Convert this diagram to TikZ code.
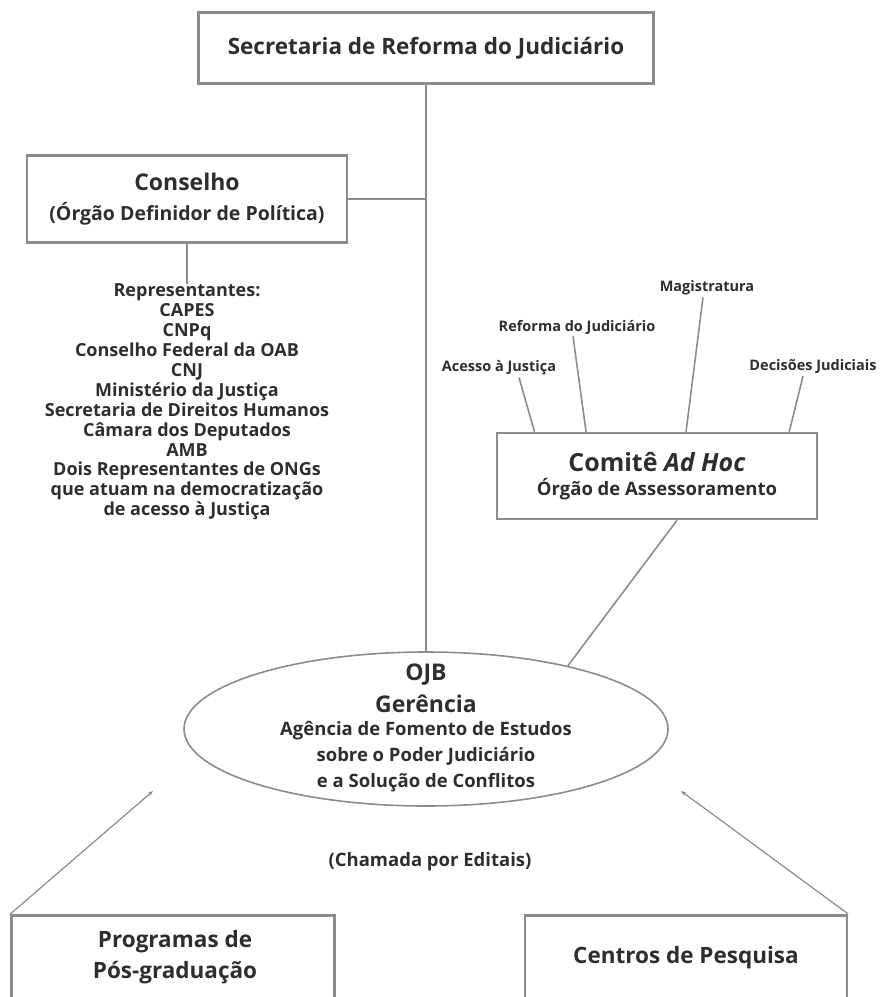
\documentclass[tikz,border=0pt]{standalone}
\usepackage{fontspec}
\setmainfont{Open Sans}
\usetikzlibrary{shapes.geometric,calc,arrows.meta}
\definecolor{linegray}{HTML}{8C8C8C}
\definecolor{inkgray}{HTML}{2E2E2E}
\begin{document}
\begin{tikzpicture}[x=1pt,y=-1pt,
  box/.style={draw=linegray,line width=2.5pt,inner sep=0pt,align=center,text=inkgray},
  txt/.style={align=center,inner sep=0pt,text=inkgray},
  lbl/.style={inner sep=2pt,text=inkgray,font=\bfseries\fontsize{14.5}{16}\selectfont},
  wire/.style={draw=linegray,line width=1.6pt},
  feed/.style={draw=linegray,line width=1.2pt,-{Stealth[length=5pt,width=4pt]}}]
  \clip (0,0) rectangle (886,997);
  % top of the chart
  \node[box,minimum width=455,minimum height=71,font=\bfseries\fontsize{22.5}{26}\selectfont] (sec) at (426,48) {Secretaria de Reforma do Judiciário};
  % council on the left, with its members
  \node[box,minimum width=320,minimum height=87,font=\bfseries\fontsize{19.5}{30}\selectfont] (cons) at (187,199)
    {{\fontsize{23}{26}\selectfont Conselho}\\(Órgão Definidor de Política)};
  \node[txt,font=\bfseries\fontsize{18}{19.9}\selectfont] (reps) at (187,402)
    {Representantes:\\CAPES\\CNPq\\Conselho Federal da OAB\\CNJ\\Ministério da Justiça\\Secretaria de Direitos Humanos\\Câmara dos Deputados\\AMB\\Dois Representantes de ONGs\\que atuam na democratização\\de acesso à Justiça};
  % advisory committee on the right
  \node[box,minimum width=320,minimum height=86] (comite) at (657,476)
    {{\bfseries\fontsize{25}{30}\selectfont Comitê \textit{Ad Hoc}}\\[5pt]{\bfseries\fontsize{18.5}{22}\selectfont Órgão de Assessoramento}};
  \node[lbl] (acesso) at (499,368) {Acesso à Justiça};
  \node[lbl] (reforma) at (577,327) {Reforma do Judiciário};
  \node[lbl] (magis) at (707,288) {Magistratura};
  \node[lbl] (decis) at (813,367) {Decisões Judiciais};
  % management in the ellipse
  \node[draw=linegray,line width=1.6pt,ellipse,minimum width=484,minimum height=154,inner sep=0pt] (ojb) at (426,729) {};
  \node[txt,font=\bfseries\fontsize{23}{32}\selectfont] (ojbhead) at (426,688) {OJB\\Gerência};
  \node[txt,font=\bfseries\fontsize{18.5}{26}\selectfont] (ojbbody) at (426,757)
    {Agência de Fomento de Estudos\\sobre o Poder Judiciário\\e a Solução de Conflitos};
  \node[txt,font=\bfseries\fontsize{18.5}{22}\selectfont] (chamada) at (430,862) {(Chamada por Editais)};
  % the two calls at the bottom, cut by the page
  \node[box,minimum width=323,minimum height=170,anchor=north] (prog) at (173,914) {};
  \node[txt,font=\bfseries\fontsize{22.5}{31}\selectfont] (progtxt) at (175,957) {Programas de\\Pós-graduação};
  \node[box,minimum width=322,minimum height=170,anchor=north] (centros) at (686,914) {};
  \node[txt,font=\bfseries\fontsize{22.5}{26}\selectfont] (centrostxt) at (686,958) {Centros de Pesquisa};
  % connectors
  \draw[wire] (sec.south) -- (ojb.north);
  \draw[wire] (cons.east) -- (cons.east -| sec.south);
  \draw[wire] (cons.south) -- (cons.south |- reps.north);
  \foreach \L/\f/\dx in {acesso/0.12/20,reforma/0.28/-4,magis/0.59/-4,decis/0.91/-10}
    \draw[wire] ($(\L.south)+(\dx,0)$) -- ($(comite.north west)!\f!(comite.north east)$);
  \draw[wire] ($(comite.south)+(20,0)$) -- (ojb.24);
  \coordinate (tipl) at (153,791);
  \coordinate (tipr) at (681,791);
  \draw[feed] (prog.north west) -- (tipl);
  \draw[feed] (centros.north east) -- (tipr);
\end{tikzpicture}
\end{document}
